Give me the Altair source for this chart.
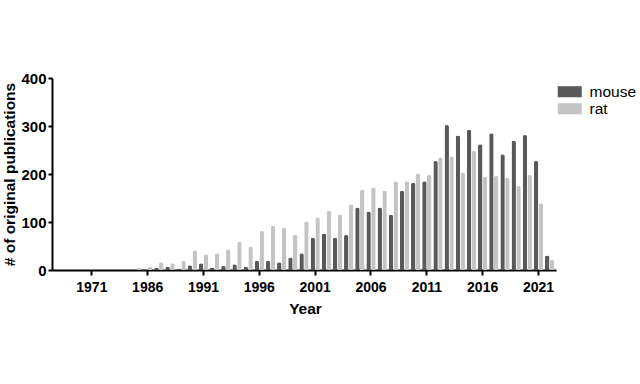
import altair as alt
import pandas as pd

# Categories (only every fifth one is labelled on the axis)
years = ["1968", "1969", "1970", "1971"] + [str(y) for y in range(1982, 2023)]

mouse = [0, 0, 0, 0,
         0, 0, 0, 0, 0,            # 1982-1986
         4, 7, 3, 10, 14,          # 1987-1991
         5, 9, 12, 7, 19,          # 1992-1996
         19, 16, 26, 35, 67,       # 1997-2001
         76, 67, 73, 130, 122,     # 2002-2006
         130, 115, 165, 182, 185,  # 2007-2011
         227, 302, 280, 292, 262,  # 2012-2016
         285, 241, 269, 281, 227,  # 2017-2021
         30]                       # 2022

rat = [0, 0, 0, 0,
       0, 0, 0, 4, 7,              # 1982-1986
       16, 14, 19, 41, 33,         # 1987-1991
       35, 43, 59, 49, 81,         # 1992-1996
       92, 88, 73, 101, 110,       # 1997-2001
       123, 115, 137, 167, 172,    # 2002-2006
       165, 185, 185, 201, 198,    # 2007-2011
       235, 237, 203, 248, 194,    # 2012-2016
       196, 192, 175, 198, 139,    # 2017-2021
       21]                         # 2022

tick_labels = ["1971", "1986", "1991", "1996", "2001", "2006", "2011", "2016", "2021"]
species = ["mouse", "rat"]
colors = ["#595959", "#c4c4c4"]

df = pd.DataFrame({
    "Year": years * 2,
    "species": ["mouse"] * len(years) + ["rat"] * len(years),
    "count": mouse + rat,
})

FONT = "Liberation Sans"

chart = alt.Chart(df).mark_bar(
    cornerRadiusTopLeft=2, cornerRadiusTopRight=2
).encode(
    x=alt.X("Year:O", sort=years,
            scale=alt.Scale(paddingInner=0.17, paddingOuter=0.155),
            axis=alt.Axis(values=tick_labels, labelAngle=0, title="Year",
                          titleX=253, titleY=43, titleBaseline="alphabetic",
                          titleAlign="center",
                          labelFontSize=14, labelFontWeight="bold",
                          titleFontSize=15.5, titleFontWeight="bold",
                          tickSize=5, labelPadding=5)),
    xOffset=alt.XOffset("species:N", sort=species,
                        scale=alt.Scale(paddingInner=0.08)),
    y=alt.Y("count:Q", scale=alt.Scale(domain=[0, 400], nice=False),
            axis=alt.Axis(values=[0, 100, 200, 300, 400],
                          title="# of original publications",
                          titleX=-38, titleY=96, titleAlign="center",
                          titleBaseline="alphabetic", titleAngle=-90,
                          labelFontSize=15, labelFontWeight="bold",
                          titleFontSize=15.5, titleFontWeight="bold",
                          tickSize=4, labelPadding=2)),
    color=alt.Color("species:N", sort=species,
                    scale=alt.Scale(domain=species, range=colors),
                    legend=alt.Legend(title=None, orient="none",
                                      legendX=510, legendY=6,
                                      symbolType="M-2,-0.92L2,-0.92L2,0.92L-2,0.92Z",
                                      symbolSize=144, symbolStrokeWidth=0,
                                      symbolOpacity=1,
                                      labelFontSize=15.5, labelFont=FONT,
                                      labelOffset=12, rowPadding=-5,
                                      labelColor="#000000")),
).properties(
    width=504, height=192,
    autosize=alt.AutoSizeParams(type="none"),
    padding={"left": 52, "top": 78, "right": 84, "bottom": 114},
).configure_view(
    stroke=None
).configure_axis(
    labelFont=FONT, titleFont=FONT, domainColor="#000000", tickColor="#000000",
    labelColor="#000000", titleColor="#000000", domainWidth=2, tickWidth=2,
    grid=False,
)

chart.save("out.html", embed_options={"renderer": "svg", "actions": False})
